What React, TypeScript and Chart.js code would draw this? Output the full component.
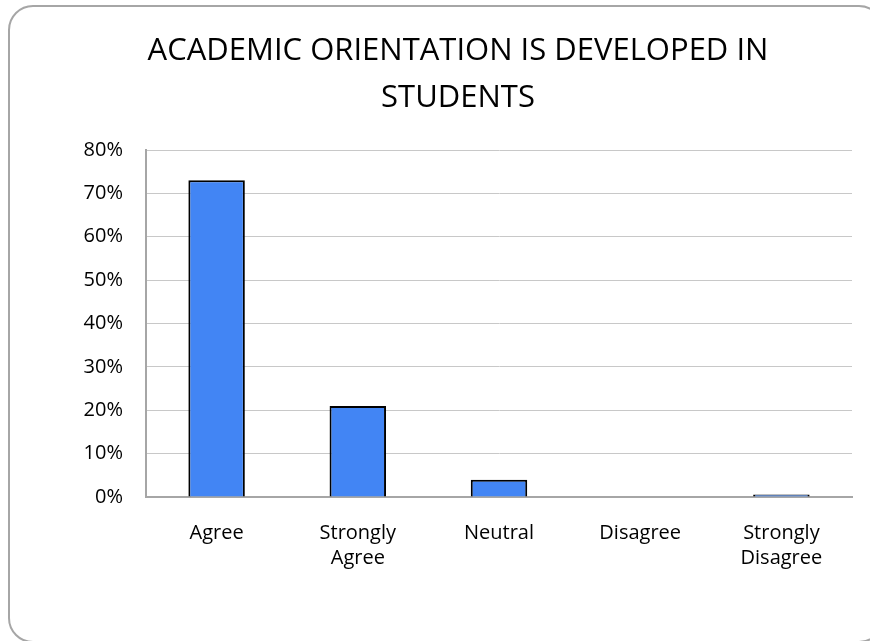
import React, { useEffect, useRef } from "react";
import { Chart, registerables } from "chart.js";

Chart.register(...registerables);

const categories: (string | string[])[] = [
  "Agree",
  ["Strongly", "Agree"],
  "Neutral",
  "Disagree",
  ["Strongly", "Disagree"],
];
const percentValues: number[] = [73, 21, 4, 0, 0.6];
const yTicksMax = 80;
const yTickStep = 10;
const titleLines: string[] = ["ACADEMIC ORIENTATION IS DEVELOPED IN", "STUDENTS"];

const TITLE_FONT = "'Open Sans', sans-serif";
const TICK_FONT = "'Open Sans', sans-serif";

export default function App() {
  const canvasRef = useRef<HTMLCanvasElement | null>(null);

  useEffect(() => {
    if (!canvasRef.current) return;
    const chart = new Chart(canvasRef.current, {
      type: "bar",
      data: {
        labels: categories,
        datasets: [
          {
            data: percentValues,
            backgroundColor: "#4285F4",
            borderColor: "#000000",
            borderWidth: 2,
            categoryPercentage: 1,
            barPercentage: 0.4,
          },
        ],
      },
      options: {
        responsive: false,
        animation: false,
        layout: { padding: { left: 64, right: 18, top: 0, bottom: 44 } },
        plugins: {
          legend: { display: false },
          tooltip: { enabled: false },
          title: {
            display: true,
            text: titleLines,
            color: "#000000",
            font: { family: TITLE_FONT, size: 31, weight: "normal", lineHeight: 1.5 },
            padding: { top: 28, bottom: 29 },
          },
        },
        scales: {
          x: {
            grid: { display: false, drawTicks: false },
            border: { display: true, color: "#a6a6a6", width: 2 },
            ticks: {
              color: "#000000",
              font: { family: TICK_FONT, size: 20, lineHeight: 1.25 },
              padding: 24,
              maxRotation: 0,
              autoSkip: false,
            },
            afterFit: (s: any) => {
              s.height = 100;
            },
          },
          y: {
            min: 0,
            max: yTicksMax,
            grid: { color: "#c8c8c8", lineWidth: 1, drawTicks: false },
            border: { display: true, color: "#a6a6a6", width: 2 },
            ticks: {
              stepSize: yTickStep,
              color: "#000000",
              font: { family: TICK_FONT, size: 20 },
              padding: 23,
              callback: (v: any) => `${v}%`,
            },
            afterFit: (s: any) => {
              s.width = 82;
            },
          },
        },
      },
    });
    return () => chart.destroy();
  }, []);

  return (
    <div
      style={{
        position: "fixed",
        left: 0,
        top: 0,
        width: 870,
        height: 641,
        overflow: "hidden",
        background: "#ffffff",
      }}
    >
      <div
        style={{
          position: "absolute",
          left: 8,
          top: 5,
          width: 876,
          height: 638,
          border: "2px solid #a6a6a6",
          borderRadius: 25,
          boxSizing: "border-box",
        }}
      />
      <canvas
        ref={canvasRef}
        width={870}
        height={641}
        style={{ position: "absolute", left: 0, top: 0, width: 870, height: 641 }}
      />
    </div>
  );
}
